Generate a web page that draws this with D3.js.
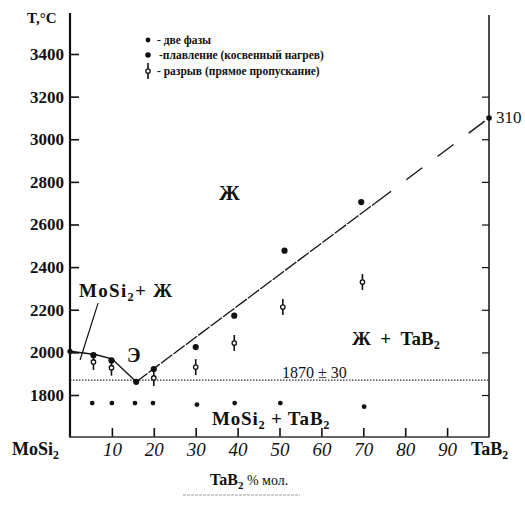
<!DOCTYPE html>
<html><head><meta charset="utf-8">
<script src="https://cdn.jsdelivr.net/npm/d3@7"></script>
<style>
body{margin:0;background:#fff;}
svg{display:block;}
text{font-family:"Liberation Serif","Times New Roman",serif;fill:#111;}
</style></head>
<body><svg id="c" width="525" height="505"></svg>
<script>
// ---- data ----
const yTicks = [1800, 2000, 2200, 2400, 2600, 2800, 3000, 3200, 3400];
const xTicks = [10, 20, 30, 40, 50, 60, 70, 80, 90];
const twoPhase = [[5.3,1762],[10,1762],[15.5,1762],[19.8,1762],[30.3,1755],[39.3,1762],[50.2,1762],[70.2,1745]];
const melting = [[5.6,1987],[9.9,1962],[15.8,1862],[20,1922],[30,2025],[39.2,2172],[51.2,2477],[69.5,2705]];
const rupture = [[5.6,1955],[9.9,1928],[20,1880],[30,1931],[39.2,2044],[50.8,2213],[69.8,2330]];
const liquidusLeft = [[0,2005],[6,1990],[10,1970],[15.8,1862]];
const liquidusSolid = [[15.8,1862],[72.8,2700]];
const liquidusDashed = [[72.8,2700],[100,3100]];
const eutecticT = 1870;
const legendItems = ["- две фазы", "-плавление (косвенный нагрев)", "- разрыв (прямое пропускание)"];

const svg = d3.select("#c");
const x = d3.scaleLinear([0,100],[70,489]);
const y = d3.scaleLinear([1800,3400],[395,54]);

// axes
const gl = svg.append("g").attr("transform","translate(70,0)")
  .call(d3.axisLeft(y).tickValues(yTicks).tickSizeInner(-9).tickSizeOuter(0).tickPadding(6).tickFormat(d3.format("d")));
gl.select(".domain").remove();
gl.selectAll("line").attr("stroke","#111").attr("stroke-width",1.6);
gl.selectAll("text").attr("font-family","Liberation Serif").attr("font-weight","bold").attr("font-size",17).attr("fill","#111");

const gr = svg.append("g").attr("transform","translate(489,0)")
  .call(d3.axisRight(y).tickValues(yTicks.filter(t=>t<3400)).tickSizeInner(-7).tickSizeOuter(0).tickFormat(""));
gr.select(".domain").remove();
gr.selectAll("line").attr("stroke","#111").attr("stroke-width",1.2);

const gb = svg.append("g").attr("transform","translate(0,437)")
  .call(d3.axisBottom(x).tickValues(xTicks).tickSizeInner(-9).tickSizeOuter(0).tickPadding(6).tickFormat(d3.format("d")));
gb.select(".domain").remove();
gb.selectAll("line").attr("stroke","#111").attr("stroke-width",1.6);
gb.selectAll("text").attr("font-family","Liberation Sans").attr("font-style","italic").attr("font-size",19).attr("fill","#222");

// axis lines
svg.append("line").attr("x1",70).attr("x2",70).attr("y1",13).attr("y2",437.5).attr("stroke","#111").attr("stroke-width",2.2);
svg.append("line").attr("x1",489).attr("x2",489).attr("y1",15).attr("y2",437.5).attr("stroke","#111").attr("stroke-width",1.5);
svg.append("line").attr("x1",70).attr("x2",489).attr("y1",437).attr("y2",437).attr("stroke","#333").attr("stroke-width",1.4);

// eutectic dotted line
svg.append("line").attr("x1",x(0)).attr("x2",x(100)).attr("y1",y(eutecticT)).attr("y2",y(eutecticT))
  .attr("stroke","#333").attr("stroke-width",1.3).attr("stroke-dasharray","1.5,1.5");

// liquidus
const ln = d3.line().x(d=>x(d[0])).y(d=>y(d[1]));
svg.append("path").attr("d",ln(liquidusLeft)).attr("fill","none").attr("stroke","#111").attr("stroke-width",1.4);
svg.append("path").attr("d",ln(liquidusSolid)).attr("fill","none").attr("stroke","#111").attr("stroke-width",1.3).attr("stroke-dasharray","14,1.5");
svg.append("path").attr("d",ln(liquidusDashed)).attr("fill","none").attr("stroke","#111").attr("stroke-width",1.3).attr("stroke-dasharray","20,19");

// end points
svg.append("circle").attr("cx",x(0)).attr("cy",y(2005)).attr("r",2.6).attr("fill","#111");
svg.append("circle").attr("cx",x(100)).attr("cy",y(3100)).attr("r",2.8).attr("fill","#111");

// markers
svg.selectAll(".tp").data(twoPhase).join("circle").attr("cx",d=>x(d[0])).attr("cy",d=>y(d[1])).attr("r",2.4).attr("fill","#111");
svg.selectAll(".ml").data(melting).join("circle").attr("cx",d=>x(d[0])).attr("cy",d=>y(d[1])).attr("r",3.1).attr("fill","#111");
function rupt(g,cx,cy){
  g.append("line").attr("x1",cx).attr("x2",cx).attr("y1",cy-8).attr("y2",cy+8).attr("stroke","#111").attr("stroke-width",1.6);
  g.append("circle").attr("cx",cx).attr("cy",cy).attr("r",2.2).attr("fill","#fff").attr("stroke","#111").attr("stroke-width",1.3);
}
rupture.forEach(d=>rupt(svg,x(d[0]),y(d[1])));

// legend
const lg = svg.append("g");
lg.append("circle").attr("cx",148).attr("cy",40).attr("r",2.4).attr("fill","#111");
lg.append("circle").attr("cx",148).attr("cy",55).attr("r",2.8).attr("fill","#111");
rupt(lg,148,71);
legendItems.forEach((t,i)=>{
  lg.append("text").attr("x",i===1?159:157).attr("y",[44,59,75][i]).attr("font-size",11.5).attr("font-weight","bold").text(t);
});

// titles / labels
svg.append("text").attr("x",27).attr("y",23).attr("font-size",15).attr("font-weight","bold").text("T,°C");

function rich(t, parts){
  // parts: [text, isSub]
  let prevSub = false;
  parts.forEach(([s,isSub])=>{
    const ts = t.append("tspan").text(s);
    if(isSub){ ts.attr("dy",4).attr("font-size","0.65em"); prevSub = true; }
    else if(prevSub){ ts.attr("dy",-4); prevSub = false; }
  });
  return t;
}
rich(svg.append("text").attr("x",79).attr("y",297).attr("font-size",19).attr("font-weight","bold").attr("letter-spacing",1.3),
  [["MoSi",false],["2",true],["+ Ж",false]]);
svg.append("line").attr("x1",x(6.7)).attr("y1",y(2231)).attr("x2",x(2.4)).attr("y2",y(1964)).attr("stroke","#111").attr("stroke-width",1.2);

svg.append("text").attr("x",127).attr("y",362).attr("font-size",20).attr("font-weight","bold").text("Э");
svg.append("text").attr("x",219).attr("y",200).attr("font-size",21).attr("font-weight","bold").text("Ж");
rich(svg.append("text").attr("x",352).attr("y",345).attr("font-size",19).attr("font-weight","bold").attr("xml:space","preserve"),
  [["Ж  +  TaB",false],["2",true]]);
svg.append("text").attr("x",282).attr("y",378).attr("font-size",16).text("1870 ± 30");
rich(svg.append("text").attr("x",212).attr("y",425).attr("font-size",19).attr("font-weight","bold").attr("letter-spacing",0.8),
  [["MoSi",false],["2",true],[" + TaB",false],["2",true]]);
rich(svg.append("text").attr("x",12).attr("y",455).attr("font-size",18).attr("font-weight","bold"),[["MoSi",false],["2",true]]);
rich(svg.append("text").attr("x",471).attr("y",455).attr("font-size",18).attr("font-weight","bold"),[["TaB",false],["2",true]]);
svg.append("text").attr("x",496).attr("y",123).attr("font-size",17).text("310");

const xl = svg.append("text").attr("x",210).attr("y",485).attr("font-size",16);
xl.append("tspan").attr("font-weight","bold").text("TaB");
xl.append("tspan").attr("font-weight","bold").attr("dy",4).attr("font-size",11).text("2");
xl.append("tspan").attr("dy",-4).attr("font-size",14).text(" % мол.");
svg.append("line").attr("x1",183).attr("x2",300).attr("y1",495).attr("y2",495).attr("stroke","#999").attr("stroke-width",1).attr("stroke-dasharray","3,1");
</script></body></html>
